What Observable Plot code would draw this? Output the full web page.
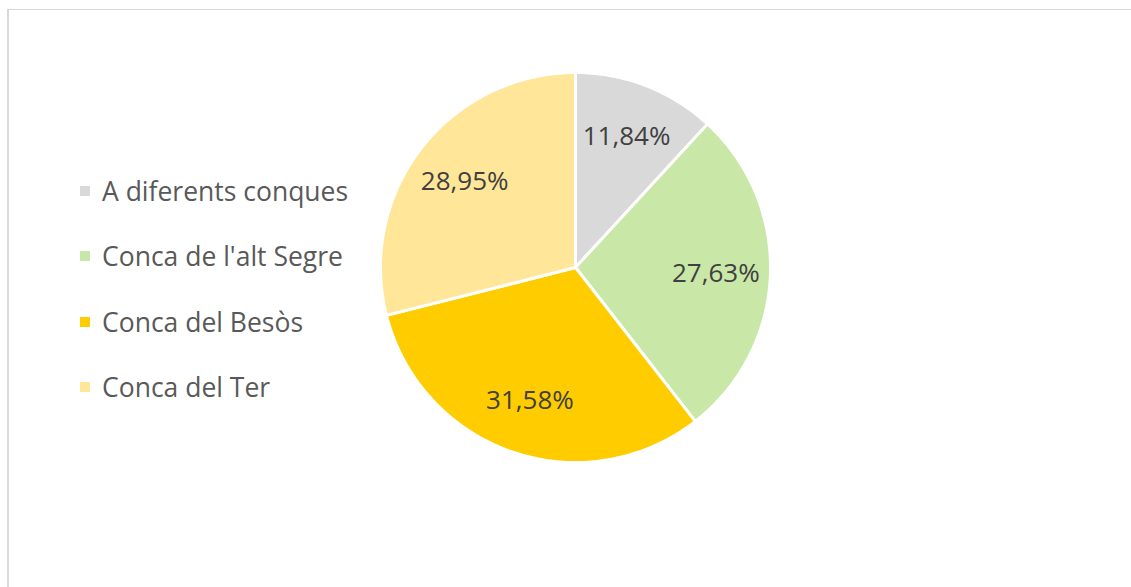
<!DOCTYPE html>
<html><head><meta charset="utf-8">
<script src="https://cdn.jsdelivr.net/npm/d3@7"></script>
<script src="https://cdn.jsdelivr.net/npm/@observablehq/plot@0.6"></script>
<style>
html,body{margin:0;padding:0;background:#fff;overflow:hidden;width:1131px;height:587px}
#frame{position:absolute;left:7px;top:9px;width:1200px;height:700px;border-left:2px solid #d9d9d9;border-top:1px solid #d9d9d9;box-sizing:border-box}
#chart{position:absolute;left:0;top:0}
#legend{position:absolute;left:80px;top:158px;font-family:"Open Sans",sans-serif;font-size:26.5px;color:#595959}
#legend .row{height:65.5px;display:flex;align-items:center}
#legend .sw{width:10px;height:10px;margin-right:12px;flex:none}
</style>
</head><body>
<div id="frame"></div>
<div id="chart"></div>
<div id="legend"></div>
<script>
const categories = ["A diferents conques", "Conca de l'alt Segre", "Conca del Besòs", "Conca del Ter"];
const values = [11.84, 27.63, 31.58, 28.95];
const colors = ["#d9d9d9", "#c9e7a7", "#ffcc00", "#ffe699"];

const data = categories.map((name, i) => ({name, value: values[i]}));
const arcs = d3.pie().sort(null).value(d => d.value)(data);

const pts = [];
for (const a of arcs) {
  pts.push({name: a.data.name, x: 0, y: 0});
  const n = Math.max(2, Math.ceil((a.endAngle - a.startAngle) / (2 * Math.PI) * 360));
  for (let k = 0; k <= n; k++) {
    const t = a.startAngle + (a.endAngle - a.startAngle) * k / n;
    pts.push({name: a.data.name, x: Math.sin(t), y: Math.cos(t)});
  }
}
const labels = arcs.map(a => {
  const m = (a.startAngle + a.endAngle) / 2;
  return {name: a.data.name, x: 0.72 * Math.sin(m), y: 0.72 * Math.cos(m),
          text: a.data.value.toFixed(2).replace(".", ",") + "%"};
});

const chart = Plot.plot({
  width: 1131, height: 587,
  marginLeft: 380, marginRight: 361, marginTop: 72, marginBottom: 125,
  x: {domain: [-1, 1], axis: null},
  y: {domain: [-1, 1], axis: null},
  color: {domain: categories, range: colors},
  style: {fontFamily: "'Open Sans', sans-serif", background: "transparent", overflow: "visible"},
  marks: [
    Plot.line(pts, {x: "x", y: "y", z: "name", fill: "name", stroke: "white", strokeWidth: 3, curve: "linear-closed", strokeLinejoin: "miter"}),
    Plot.text(labels, {x: "x", y: "y", text: "text", fontSize: 26, fill: "#404040"})
  ]
});
document.getElementById("chart").appendChild(chart);

const leg = document.getElementById("legend");
categories.forEach((c, i) => {
  const row = document.createElement("div");
  row.className = "row";
  const sw = document.createElement("span");
  sw.className = "sw"; sw.style.background = colors[i];
  const tx = document.createElement("span");
  tx.textContent = c;
  row.appendChild(sw); row.appendChild(tx);
  leg.appendChild(row);
});
</script>
</body></html>
